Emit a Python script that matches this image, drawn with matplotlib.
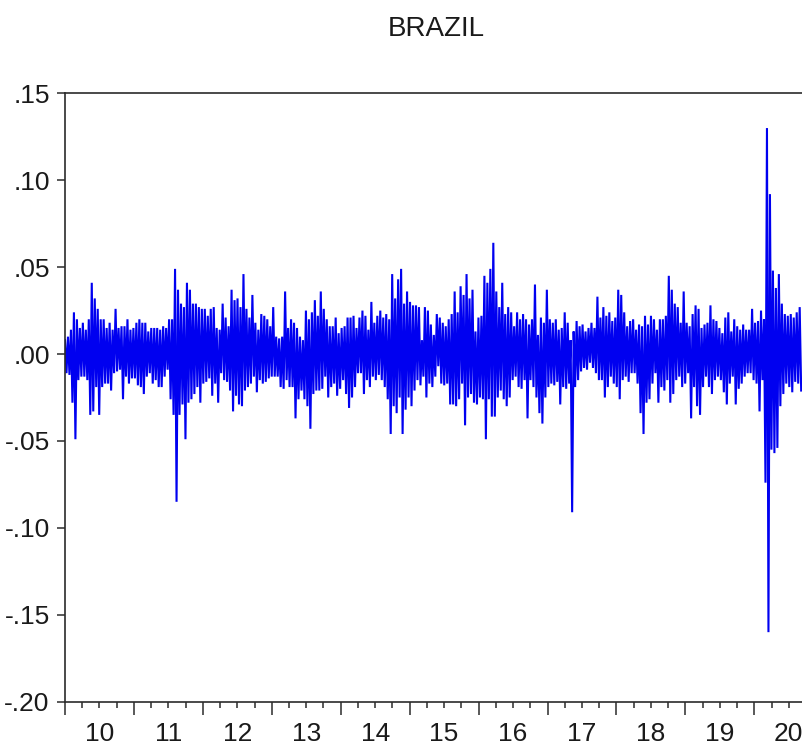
import numpy as np
import matplotlib
matplotlib.use("Agg")
import matplotlib.pyplot as plt
from matplotlib.ticker import FixedLocator, FuncFormatter, NullFormatter

title = "BRAZIL"
year_starts = list(range(2010, 2021))
year_labels = ["10", "11", "12", "13", "14", "15", "16", "17", "18", "19", "20"]
y_ticks = [-0.20, -0.15, -0.10, -0.05, 0.00, 0.05, 0.10, 0.15]

hi_2010_12 = [8, 10, 14, 24, 20, 15, 18, 14, 20, 41, 32, 26, 20, 20, 15, 18, 14, 26, 15, 16,
              16, 20, 14, 15, 18, 20, 18, 18, 13, 15, 15, 15, 14, 16, 15, 20, 20, 49, 37, 29,
              27, 41, 37, 29, 29, 27, 26, 26, 22, 26]
lo_2010_12 = [-11, -12, -28, -49, -15, -13, -13, -15, -35, -33, -19, -35, -19, -17, -17, -21, -11, -10, -9, -26,
              -13, -17, -14, -14, -18, -19, -23, -13, -11, -17, -15, -19, -19, -13, -9, -26, -35, -85, -35, -29,
              -49, -28, -26, -23, -19, -28, -17, -16, -14, -24]

hi_2012_14 = [27, 15, 14, 29, 21, 16, 37, 31, 32, 27, 46, 26, 21, 34, 18, 14, 23, 22, 20, 16,
              27, 10, 9, 10, 36, 15, 20, 18, 15, 10, 8, 25, 20, 24, 31, 22, 36, 26, 20, 16,
              16, 21, 12, 15, 16, 21, 21, 22, 15]
lo_2012_14 = [-17, -28, -11, -15, -16, -21, -33, -24, -29, -30, -21, -19, -17, -13, -22, -15, -17, -16, -14, -13,
              -13, -13, -19, -20, -15, -19, -19, -37, -26, -21, -26, -30, -43, -23, -21, -21, -20, -13, -25, -19,
              -17, -24, -20, -15, -23, -31, -25, -19, -11]

hi_2014_16 = [21, 25, 22, 14, 30, 18, 22, 25, 21, 23, 20, 46, 32, 43, 49, 29, 36, 30, 28, 28,
              27, 8, 27, 25, 17, 11, 23, 21, 18, 16, 20, 23, 36, 24, 39, 34, 46, 32, 37, 13,
              21, 22, 45, 41, 49, 64, 36, 27, 41]
lo_2014_16 = [-11, -23, -15, -19, -13, -15, -12, -15, -19, -26, -46, -30, -34, -25, -46, -32, -25, -30, -21, -15,
              -18, -13, -25, -17, -19, -13, -7, -17, -18, -17, -29, -29, -30, -26, -17, -41, -25, -23, -28, -29,
              -25, -26, -49, -26, -36, -36, -25, -21, -26]

hi_2016_18 = [23, 27, 24, 16, 24, 20, 23, 20, 17, 20, 40, 11, 21, 18, 37, 20, 18, 20, 14, 15,
              24, 18, 8, 13, 19, 16, 17, 13, 15, 18, 15, 33, 21, 27, 22, 24, 19, 21, 37, 34,
              24, 16, 19, 20, 14, 17, 16, 22, 17, 22]
lo_2016_18 = [-30, -25, -15, -13, -19, -20, -15, -37, -15, -19, -25, -34, -40, -25, -19, -17, -18, -16, -29, -19,
              -20, -17, -91, -19, -15, -10, -8, -9, -5, -8, -11, -15, -15, -25, -19, -13, -17, -19, -26, -15,
              -13, -16, -11, -11, -17, -34, -46, -28, -26, -17]

hi_2018_20 = [20, 14, 20, 20, 22, 45, 37, 29, 27, 18, 36, 18, 16, 23, 28, 26, 15, 17, 18, 28,
              20, 19, 15, 12, 21, 24, 13, 20, 16, 14, 17, 14, 14, 26, 18, 19, 25, 20, 130, 92,
              48, 38, 46, 29, 23, 22, 23, 21, 24, 27]
lo_2018_20 = [-11, -28, -19, -21, -15, -28, -23, -15, -13, -19, -17, -11, -37, -19, -30, -35, -19, -13, -19, -23,
              -15, -13, -15, -22, -29, -17, -13, -29, -20, -17, -13, -11, -11, -15, -17, -33, -15, -74, -160, -55,
              -57, -54, -30, -23, -17, -19, -22, -16, -17, -21]

hi = hi_2010_12 + hi_2012_14 + hi_2014_16 + hi_2016_18 + hi_2018_20
lo = lo_2010_12 + lo_2012_14 + lo_2014_16 + lo_2016_18 + lo_2018_20

series = np.empty(2 * len(hi))
series[0::2] = np.array(hi) / 1000.0
series[1::2] = np.array(lo) / 1000.0
t = np.linspace(2010.0, 2020.68, len(series))

plt.rcParams["font.family"] = ["Liberation Sans Narrow", "Liberation Sans", "DejaVu Sans"]

fig = plt.figure(figsize=(8.02, 7.5), dpi=100)
ax = fig.add_axes([0.08105, 0.0644, 0.91895, 0.8112])
ax.plot(t, series, color="#0000f0", lw=1.5, solid_joinstyle="miter")

ax.set_xlim(2010.0, 2020.692)
ax.set_ylim(-0.20, 0.15)

for s in ["left", "bottom", "top"]:
    ax.spines[s].set_color("#2b2b2b")
    ax.spines[s].set_linewidth(1.2)
ax.spines["right"].set_visible(False)

# x axis: major ticks at year boundaries, minor at quarters, labels at mid-year
ax.xaxis.set_major_locator(FixedLocator(year_starts))
ax.xaxis.set_major_formatter(NullFormatter())
minor_pos = []
for y in year_starts:
    minor_pos += [y + 0.25, y + 0.5, y + 0.75]
ax.xaxis.set_minor_locator(FixedLocator(minor_pos))
label_map = {round(y + 0.5, 2): lab for y, lab in zip(year_starts, year_labels)}
ax.xaxis.set_minor_formatter(FuncFormatter(lambda v, p: label_map.get(round(v, 2), "")))
ax.tick_params(axis="x", which="major", direction="out", length=9, width=1.1, color="#2b2b2b")
ax.tick_params(axis="x", which="minor", direction="out", length=4.5, width=1.1, color="#2b2b2b",
               labelsize=19, pad=10, labelcolor="#1a1a1a")

ax.set_yticks(y_ticks)
ax.yaxis.set_major_formatter(FuncFormatter(lambda v, p: f"{v:.2f}".replace("0.", ".")))
ax.tick_params(axis="y", which="major", direction="out", length=6, width=1.1, color="#2b2b2b",
               labelsize=19, pad=5, labelcolor="#1a1a1a")

fig.text(436 / 802, 1 - 29 / 750, title, ha="center", va="center", fontsize=20, color="#1a1a1a")

fig.savefig("out.png", dpi=100)
